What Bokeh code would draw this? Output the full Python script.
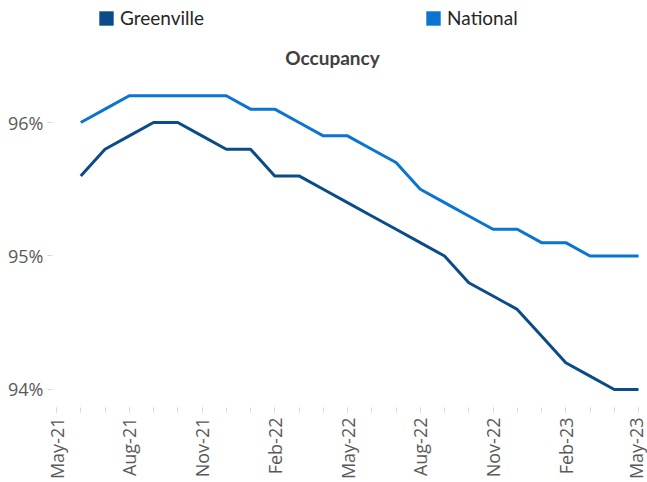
from bokeh.plotting import figure
from bokeh.models import (FixedTicker, PrintfTickFormatter, Legend, LegendItem,
                          ColumnDataSource, Label)
from bokeh.embed import file_html
from bokeh.resources import INLINE
import math

# month index: 0 = May-21 ... 24 = May-23
months = list(range(1, 25))  # Jun-21 .. May-23
greenville = [95.6, 95.8, 95.9, 96.0, 96.0, 95.9, 95.8, 95.8, 95.6, 95.6, 95.5, 95.4,
              95.3, 95.2, 95.1, 95.0, 94.8, 94.7, 94.6, 94.4, 94.2, 94.1, 94.0, 94.0]
national = [96.0, 96.1, 96.2, 96.2, 96.2, 96.2, 96.2, 96.1, 96.1, 96.0, 95.9, 95.9,
            95.8, 95.7, 95.5, 95.4, 95.3, 95.2, 95.2, 95.1, 95.1, 95.0, 95.0, 95.0]
tick_positions = [0, 3, 6, 9, 12, 15, 18, 21, 24]
tick_labels = ["May-21", "Aug-21", "Nov-21", "Feb-22", "May-22", "Aug-22", "Nov-22", "Feb-23", "May-23"]
y_ticks = [94, 95, 96]

G_COLOR = "#0B4C88"
N_COLOR = "#0A74D2"
LABEL_COLOR = "#595959"
TICK_COLOR = "#D9D9D9"

src = ColumnDataSource(dict(x=months, g=greenville, n=national))

# frame spans the full height above the x axis; legend and title sit in its upper part
p = figure(width=647, height=482, output_backend="svg", toolbar_location=None,
           x_range=(-0.165, 24.04), y_range=(93.865, 96.914),
           min_border_left=52, min_border_right=8, min_border_top=0, min_border_bottom=75)
p.title = None
p.outline_line_color = None
p.xgrid.grid_line_color = None
p.ygrid.grid_line_color = None

p.line("x", "g", source=src, line_color=G_COLOR, line_width=3)
p.line("x", "n", source=src, line_color=N_COLOR, line_width=3)

# x axis
p.xaxis.ticker = FixedTicker(ticks=tick_positions, minor_ticks=list(range(0, 25)))
p.xaxis.major_label_overrides = {t: l for t, l in zip(tick_positions, tick_labels)}
p.xaxis.major_label_orientation = math.pi / 2
p.xaxis.axis_line_color = None
p.xaxis.major_tick_line_color = TICK_COLOR
p.xaxis.minor_tick_line_color = TICK_COLOR
p.xaxis.major_tick_out = 5
p.xaxis.major_tick_in = 0
p.xaxis.minor_tick_out = 5
p.xaxis.minor_tick_in = 0
p.xaxis.major_label_standoff = 5
p.xaxis.major_label_text_font = "Open Sans"
p.xaxis.major_label_text_font_size = "18px"
p.xaxis.major_label_text_color = LABEL_COLOR

# y axis
p.yaxis.ticker = FixedTicker(ticks=y_ticks, minor_ticks=[])
p.yaxis.formatter = PrintfTickFormatter(format="%d%%")
p.yaxis.axis_line_color = None
p.yaxis.major_tick_line_color = TICK_COLOR
p.yaxis.major_tick_out = 5
p.yaxis.major_tick_in = 0
p.yaxis.major_label_standoff = 4
p.yaxis.major_label_text_font = "Open Sans"
p.yaxis.major_label_text_font_size = "18px"
p.yaxis.major_label_text_color = LABEL_COLOR

# title
title = Label(x=280, y=350, x_units="screen", y_units="screen", text="Occupancy",
              text_align="center", text_baseline="middle", text_font="Lato",
              text_font_style="bold", text_font_size="19px", text_color="#404040")
p.add_layout(title)

# legend swatches: renderers with no drawable position, used only for the legend
nan = float("nan")
r_g = p.quad(left=[nan], right=[nan], top=[nan], bottom=[nan], fill_color=G_COLOR, line_color=None)
r_n = p.quad(left=[nan], right=[nan], top=[nan], bottom=[nan], fill_color=N_COLOR, line_color=None)
legend = Legend(items=[LegendItem(label="Greenville", renderers=[r_g]),
                       LegendItem(label="National", renderers=[r_n])],
                location=(45, 378), orientation="horizontal", padding=0, margin=0, spacing=220,
                border_line_color=None, background_fill_alpha=0,
                glyph_width=18, glyph_height=18, label_standoff=5,
                label_text_font="Lato", label_text_font_size="19px", label_text_color="#262626")
p.add_layout(legend)

open("out.html", "w").write(file_html(p, INLINE))
